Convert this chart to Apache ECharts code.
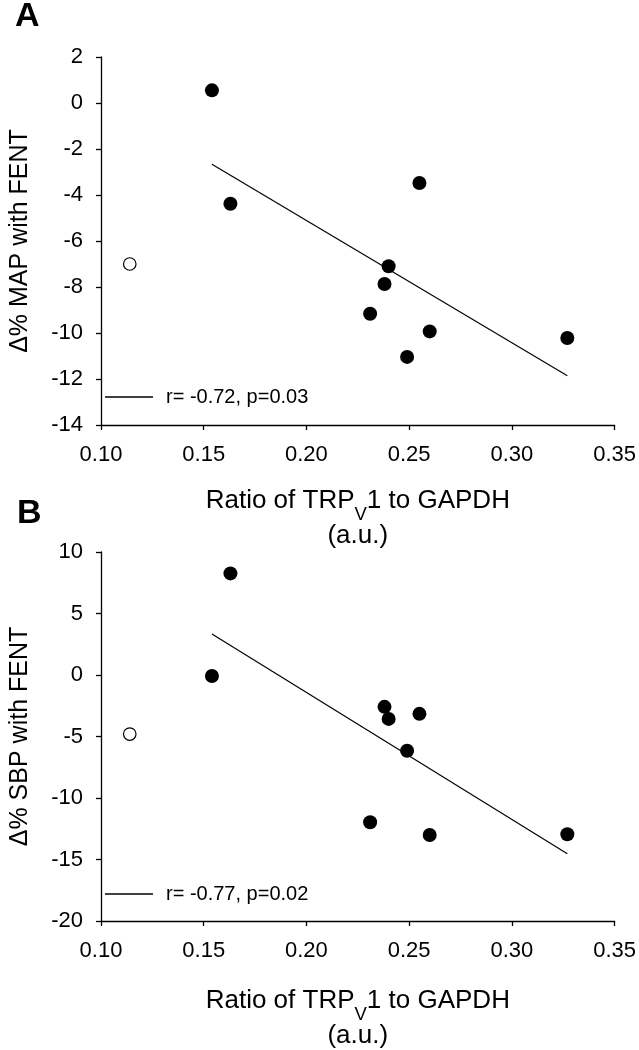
<!DOCTYPE html>
<html><head><meta charset="utf-8">
<script src="https://cdn.jsdelivr.net/npm/echarts@6/dist/echarts.min.js"></script>
<style>html,body{margin:0;padding:0;background:#fff}#c{width:639px;height:1050px}</style>
</head><body><div id="c"></div>
<script>
// ratio of TRPV1 to GAPDH (x); first point is the open (excluded) circle
const ratioValues = [0.114, 0.154, 0.163, 0.231, 0.238, 0.240, 0.249, 0.255, 0.260, 0.327];
const openFlags   = [true, false, false, false, false, false, false, false, false, false];
const mapValues   = [-7.0, 0.55, -4.38, -9.16, -7.87, -7.10, -11.04, -3.48, -9.93, -10.22];
const sbpValues   = [-4.8, -0.08, 8.26, -11.97, -2.59, -3.57, -6.16, -3.16, -13.01, -12.95];
const mapFitX = [0.154, 0.327];
const mapFitY = [-2.66, -11.86];
const sbpFitX = [0.154, 0.327];
const sbpFitY = [3.33, -14.54];
const mapLegend = 'r= -0.72, p=0.03';
const sbpLegend = 'r= -0.77, p=0.02';
const xTickLabels = ['0.10', '0.15', '0.20', '0.25', '0.30', '0.35'];

const FONT = '"Liberation Sans", Arial, sans-serif';
const chart = echarts.init(document.getElementById('c'), null, {renderer: 'canvas'});

function pts(ys, open) {
  const out = [];
  ratioValues.forEach((x, i) => { if (openFlags[i] === open) out.push([x, ys[i]]); });
  return out;
}
function fit(xs, ys) { return xs.map((x, i) => [x, ys[i]]); }

const xName = '{a|Ratio of TRP}{s|V}{a|1 to GAPDH}\n{b|(a.u.)}';
const xRich = {
  a: {fontSize: 26, fontFamily: FONT, color: '#000', lineHeight: 35, verticalAlign: 'middle'},
  s: {fontSize: 18.5, fontFamily: FONT, color: '#000', lineHeight: 13, padding: [22, 0, 0, 0], verticalAlign: 'top'},
  b: {fontSize: 26, fontFamily: FONT, color: '#000', lineHeight: 35, verticalAlign: 'middle'}
};

function xAxis(gi, gap) {
  return {
    type: 'value', gridIndex: gi, min: 0.1, max: 0.35, interval: 0.05,
    axisLine: {show: true, onZero: false, lineStyle: {color: '#000', width: 1.3}},
    axisTick: {show: true, length: 5, inside: false, lineStyle: {color: '#000', width: 1.3}},
    splitLine: {show: false},
    axisLabel: {color: '#000', fontSize: 22, fontFamily: FONT, margin: 19,
      formatter: v => xTickLabels[Math.round((v - 0.1) / 0.05)]},
    name: xName, nameLocation: 'middle', nameGap: gap,
    nameTextStyle: {rich: xRich, fontSize: 26, fontFamily: FONT, color: '#000'}
  };
}
function yAxis(gi, min, max, step, title) {
  return {
    type: 'value', gridIndex: gi, min: min, max: max, interval: step,
    axisLine: {show: true, onZero: false, lineStyle: {color: '#000', width: 1.3}},
    axisTick: {show: true, length: 5, inside: false, lineStyle: {color: '#000', width: 1.3}},
    splitLine: {show: false},
    axisLabel: {color: '#000', fontSize: 22, fontFamily: FONT, margin: 18},
    name: title, nameLocation: 'middle', nameGap: 68, nameRotate: 90,
    nameTextStyle: {color: '#000', fontSize: 25, fontFamily: FONT}
  };
}
function scatter(gi, ys, open) {
  return {
    type: 'scatter', xAxisIndex: gi, yAxisIndex: gi,
    data: pts(ys, open), symbol: 'circle', symbolSize: open ? 12.5 : 14,
    itemStyle: open ? {color: '#fff', borderColor: '#000', borderWidth: 1.2, opacity: 1}
                    : {color: '#000', opacity: 1},
    silent: true, z: 3
  };
}
function line(gi, xs, ys, name) {
  return {
    type: 'line', name: name, xAxisIndex: gi, yAxisIndex: gi, data: fit(xs, ys),
    showSymbol: false, symbol: 'none', lineStyle: {color: '#000', width: 1.2},
    itemStyle: {color: '#000'}, silent: true, z: 2
  };
}

const legendIcon = 'path://M0,0H48V1.5H0Z';
function legend(name, top) {
  return {
    data: [{name: name, icon: legendIcon, itemStyle: {color: '#000', opacity: 1}}],
    left: 105, top: top, padding: 0,
    itemWidth: 48, itemHeight: 1.5, selectedMode: false,
    textStyle: {fontSize: 20, fontFamily: FONT, color: '#000', padding: [0, 0, 0, 8]}
  };
}

chart.setOption({
  animation: false,
  backgroundColor: '#fff',
  title: [
    {text: 'A', left: 15, top: 0, padding: 0, textStyle: {fontSize: 34, fontWeight: 'bold', fontFamily: FONT, color: '#000'}},
    {text: 'B', left: 17, top: 497, padding: 0, textStyle: {fontSize: 34, fontWeight: 'bold', fontFamily: FONT, color: '#000'}}
  ],
  grid: [
    {left: 92, top: 57, width: 524, height: 368},
    {left: 92, top: 552, width: 524, height: 369}
  ],
  legend: [legend(mapLegend, 387), legend(sbpLegend, 884)],
  xAxis: [xAxis(0, 58.5), xAxis(1, 62.5)],
  yAxis: [yAxis(0, -14, 2, 2, 'Δ% MAP with FENT'), yAxis(1, -20, 10, 5, 'Δ% SBP with FENT')],
  series: [
    line(0, mapFitX, mapFitY, mapLegend),
    scatter(0, mapValues, false), scatter(0, mapValues, true),
    line(1, sbpFitX, sbpFitY, sbpLegend),
    scatter(1, sbpValues, false), scatter(1, sbpValues, true)
  ]
});
</script></body></html>
